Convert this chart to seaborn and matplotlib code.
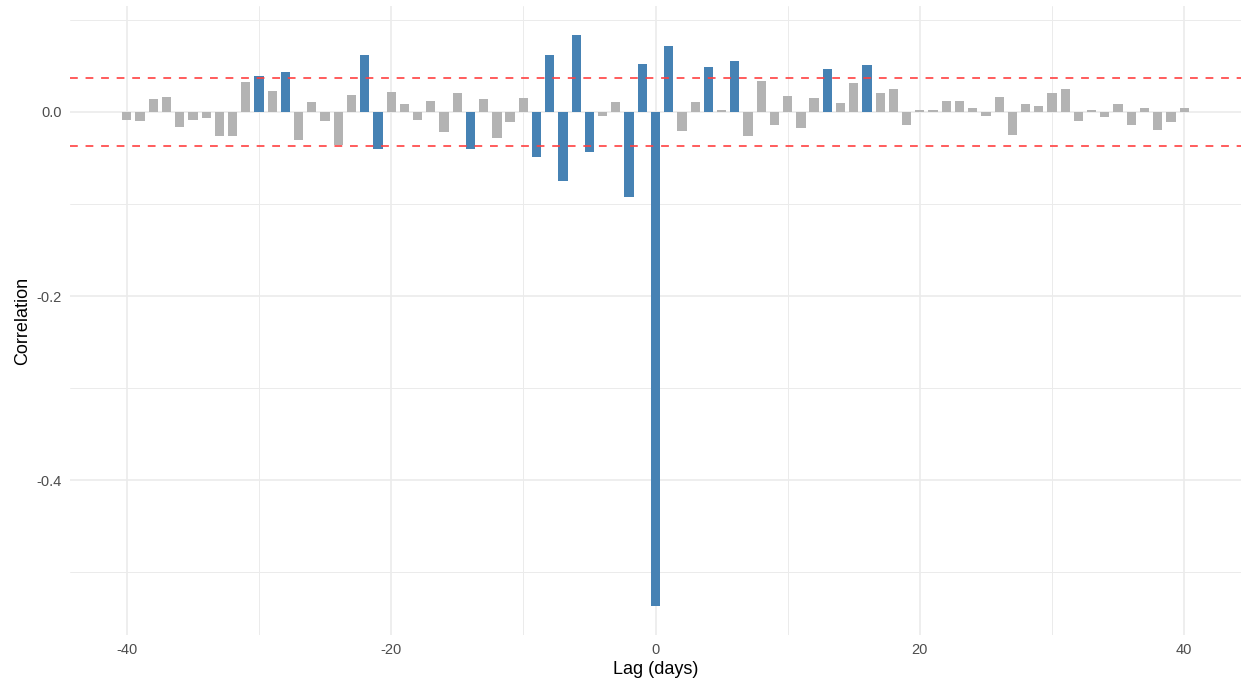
import numpy as np
import pandas as pd
import matplotlib
matplotlib.use("Agg")
import matplotlib.pyplot as plt
import seaborn as sns
from matplotlib.ticker import FixedLocator

lags = list(range(-40, 41))
correlation = [
    -0.0083, -0.0100, 0.0138, 0.0167, -0.0167, -0.0087, -0.0065, -0.0257, -0.0257, 0.0330,
    0.0390, 0.0228, 0.0428, -0.0304, 0.0105, -0.0100, -0.0359, 0.0185, 0.0623, -0.0399,
    0.0217, 0.0090, -0.0083, 0.0120, -0.0220, 0.0203, -0.0399, 0.0138, -0.0279, -0.0109,
    0.0152, -0.0486, 0.0620, -0.0746, 0.0840, -0.0435, -0.0040, 0.0112, -0.0924, 0.0525,
    -0.5370,
    0.0721, -0.0210, 0.0112, 0.0489, 0.0025, 0.0551, -0.0261, 0.0340, -0.0138, 0.0174,
    -0.0174, 0.0156, 0.0464, 0.0094, 0.0312, 0.0504, 0.0207, 0.0254, -0.0138, 0.0025,
    0.0020, 0.0116, 0.0123, 0.0047, -0.0040, 0.0167, -0.0246, 0.0087, 0.0062, 0.0203,
    0.0254, -0.0100, 0.0020, -0.0054, 0.0087, -0.0138, 0.0040, -0.0200, -0.0109, 0.0043,
]
threshold = 0.0365
x_ticks = [-40, -20, 0, 20, 40]
y_ticks = [-0.4, -0.2, 0.0]

df = pd.DataFrame({"lag": lags, "corr": correlation})
df["sig"] = np.where(df["corr"].abs() > threshold, "sig", "ns")

sns.set_theme(style="white")
plt.rcParams["font.family"] = ["Liberation Sans", "DejaVu Sans"]

fig = plt.figure(figsize=(12.41, 6.83), dpi=100)
ax = fig.add_axes([70 / 1241, 48 / 683, (1241 - 70) / 1241, (635 - 6) / 683])

sns.barplot(data=df, x="lag", y="corr", hue="sig", native_scale=True,
            palette={"sig": "#4682B4", "ns": "#B3B3B3"}, width=0.7,
            saturation=1, dodge=False, legend=False, ax=ax, zorder=3, linewidth=0)

ax.axhline(threshold, color="#FF4040", alpha=0.85, lw=1.4, ls=(0, (4, 4)), zorder=4)
ax.axhline(-threshold, color="#FF4040", alpha=0.85, lw=1.4, ls=(0, (4, 4)), zorder=4)

ax.set_xlim(-44.3, 44.3)
ax.set_ylim(-0.568, 0.115)

ax.xaxis.set_major_locator(FixedLocator(x_ticks))
ax.xaxis.set_minor_locator(FixedLocator([-30, -10, 10, 30]))
ax.yaxis.set_major_locator(FixedLocator(y_ticks))
ax.yaxis.set_minor_locator(FixedLocator([-0.5, -0.3, -0.1, 0.1]))
ax.set_xticklabels([str(t) for t in x_ticks])
ax.set_yticklabels([f"{t:.1f}" for t in y_ticks])

ax.grid(which="major", color="#EBEBEB", lw=1.2, zorder=0)
ax.grid(which="minor", color="#EBEBEB", lw=0.7, zorder=0)
ax.set_axisbelow(True)
for s in ax.spines.values():
    s.set_visible(False)
ax.tick_params(which="both", length=0, labelsize=10.5, labelcolor="#4D4D4D", pad=6)

ax.set_xlabel("Lag (days)", fontsize=13, color="black", labelpad=3)
ax.set_ylabel("Correlation", fontsize=13, color="black", labelpad=4)

fig.savefig("out.png", dpi=100, facecolor="white")
